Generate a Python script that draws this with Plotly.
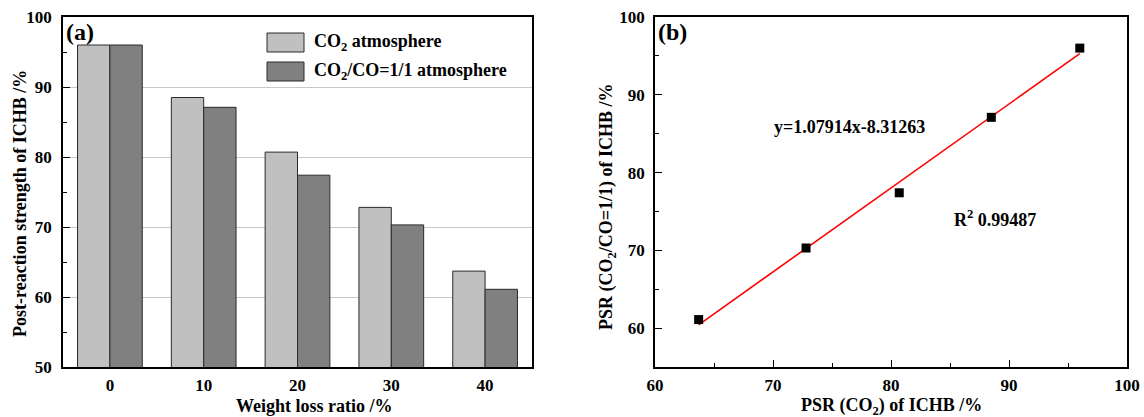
import plotly.graph_objects as go

# ---- data ----
weight_loss = ["0", "10", "20", "30", "40"]
psr_co2 = [96.0, 88.5, 80.7, 72.8, 63.7]
psr_co2_co = [96.0, 87.1, 77.4, 70.3, 61.1]
fit_slope = 1.07914
fit_intercept = -8.31263
r_squared = "0.99487"

FONT = "Times New Roman, Liberation Serif, serif"
W, H = 1144, 417
ML, MR, MT, MB = 63, 17, 17, 50
PW = W - ML - MR
PH = H - MT - MB

def px(x):
    return (x - ML) / PW

def py(y):
    return (H - MB - y) / PH

fig = go.Figure()

fig.add_trace(go.Bar(
    x=weight_loss, y=psr_co2, name="CO<sub>2</sub> atmosphere",
    marker=dict(color="#c0c0c0", line=dict(color="#2a2a2a", width=1)),
    xaxis="x", yaxis="y", showlegend=False))
fig.add_trace(go.Bar(
    x=weight_loss, y=psr_co2_co, name="CO<sub>2</sub>/CO=1/1 atmosphere",
    marker=dict(color="#808080", line=dict(color="#2a2a2a", width=1)),
    xaxis="x", yaxis="y", showlegend=False))

# fit line
xf = [min(psr_co2), max(psr_co2)]
yf = [fit_slope * v + fit_intercept for v in xf]
fig.add_trace(go.Scatter(x=xf, y=yf, mode="lines",
                         line=dict(color="#ff0000", width=1.6),
                         xaxis="x2", yaxis="y2", showlegend=False))
fig.add_trace(go.Scatter(x=psr_co2, y=psr_co2_co, mode="markers",
                         marker=dict(symbol="square", size=9, color="black"),
                         xaxis="x2", yaxis="y2", showlegend=False))

tickfont = dict(family=FONT, size=17, color="black", weight="bold")
axcommon = dict(showline=True, linecolor="black", linewidth=1.5, mirror=True,
                tickfont=tickfont, automargin=False)

fig.update_layout(
    width=W, height=H,
    margin=dict(l=ML, r=MR, t=MT, b=MB),
    paper_bgcolor="white", plot_bgcolor="white",
    barmode="group", bargap=0.31, bargroupgap=0,
    font=dict(family=FONT, size=17, color="black"),
    xaxis=dict(domain=[0, px(532)], type="category", ticks="", showgrid=False,
               ticklabelstandoff=2, **axcommon),
    yaxis=dict(domain=[0, 1], range=[50, 100], tick0=50, dtick=10,
               ticks="inside", ticklen=7, tickwidth=1.3, tickcolor="black",
               showgrid=True, gridcolor="#c8c8c8", gridwidth=1, ticklabelstandoff=6,
               minor=dict(dtick=5, tick0=50, ticks="inside", ticklen=4, tickcolor="black", showgrid=False),
               **axcommon),
    xaxis2=dict(domain=[px(655), 1], range=[60, 100], tick0=60, dtick=10,
                ticks="inside", ticklen=7, tickwidth=1.3, tickcolor="black", showgrid=False,
                ticklabelstandoff=2,
                minor=dict(dtick=5, tick0=60, ticks="inside", ticklen=4, tickcolor="black", showgrid=False),
                anchor="y2", **axcommon),
    yaxis2=dict(domain=[0, 1], range=[55, 100], tickvals=[60, 70, 80, 90, 100],
                ticks="inside", ticklen=7, tickwidth=1.3, tickcolor="black", showgrid=False,
                ticklabelstandoff=5,
                minor=dict(tickvals=[65, 75, 85, 95], ticks="inside", ticklen=4, tickcolor="black", showgrid=False),
                anchor="x2", **axcommon),
)

TFONT = dict(family=FONT, size=18, color="black", weight="bold")

# axis titles (placed as in the reference)
fig.add_annotation(xref="paper", yref="paper", x=px(314), y=py(406),
                   text="Weight loss ratio /%", showarrow=False,
                   xanchor="center", yanchor="middle", font=TFONT)
fig.add_annotation(xref="paper", yref="paper", x=px(20), y=py(204),
                   text="Post-reaction strength of ICHB /%", showarrow=False, textangle=-90,
                   xanchor="center", yanchor="middle", font=TFONT)
fig.add_annotation(xref="paper", yref="paper", x=px(891), y=py(406),
                   text="PSR (CO<sub>2</sub>) of ICHB /%", showarrow=False,
                   xanchor="center", yanchor="middle", font=TFONT)
fig.add_annotation(xref="paper", yref="paper", x=px(607), y=py(207),
                   text="PSR (CO<sub>2</sub>/CO=1/1) of ICHB /%", showarrow=False, textangle=-90,
                   xanchor="center", yanchor="middle", font=TFONT)

# manual legend (panel a)
legend_items = [("CO<sub>2</sub> atmosphere", "#c0c0c0", 33, 52),
                ("CO<sub>2</sub>/CO=1/1 atmosphere", "#808080", 62, 81)]
for text, col, y0, y1 in legend_items:
    fig.add_shape(type="rect", xref="paper", yref="paper",
                  x0=px(267), x1=px(304), y0=py(y1), y1=py(y0),
                  fillcolor=col, line=dict(color="#2a2a2a", width=1))
    fig.add_annotation(xref="paper", yref="paper", x=px(312), y=py((y0 + y1) / 2),
                       text=text, showarrow=False, xanchor="left", yanchor="middle",
                       font=dict(family=FONT, size=18, color="black", weight="bold"))

# panel labels
fig.add_annotation(xref="paper", yref="paper", x=px(64), y=py(32), text="(a)",
                   showarrow=False, xanchor="left", yanchor="middle",
                   font=dict(family=FONT, size=24, color="black", weight="bold"))
fig.add_annotation(xref="paper", yref="paper", x=px(656), y=py(32), text="(b)",
                   showarrow=False, xanchor="left", yanchor="middle",
                   font=dict(family=FONT, size=24, color="black", weight="bold"))

# fit annotations
fig.add_annotation(xref="x2", yref="y2", x=76.5, y=85.9,
                   text="y=%.5fx%.5f" % (fit_slope, fit_intercept),
                   showarrow=False, xanchor="center", yanchor="middle",
                   font=dict(family=FONT, size=18, color="black", weight="bold"))
fig.add_annotation(xref="x2", yref="y2", x=88.8, y=74.1,
                   text="R<sup>2</sup> " + r_squared,
                   showarrow=False, xanchor="center", yanchor="middle",
                   font=dict(family=FONT, size=18, color="black", weight="bold"))

fig.write_html("out.html")
